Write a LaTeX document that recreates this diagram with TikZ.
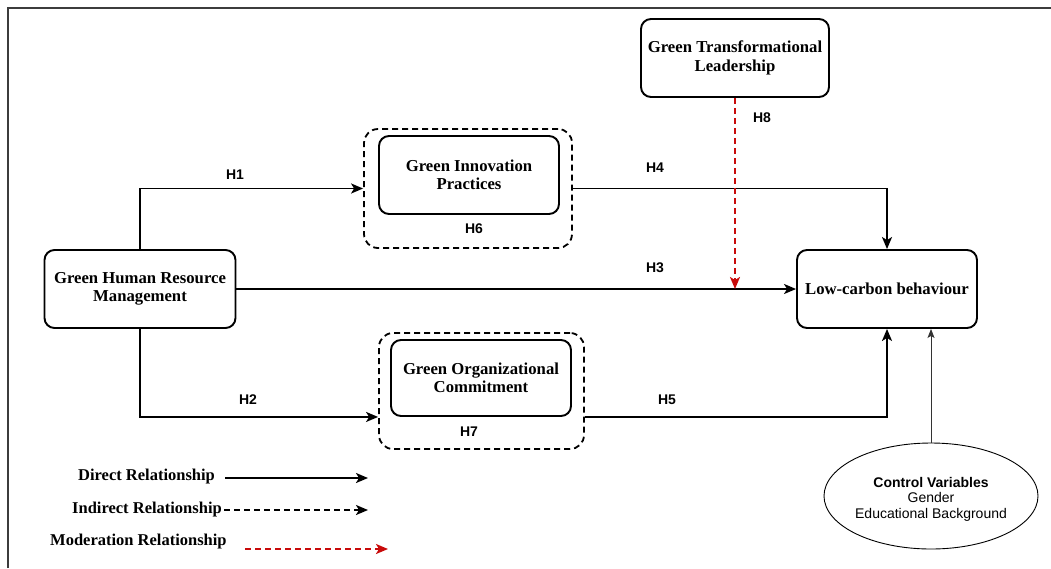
\documentclass[tikz,border=0pt]{standalone}
\usepackage{fontspec}
\setmainfont{Liberation Serif}
\newfontfamily\arialf{Liberation Sans}
\usetikzlibrary{arrows.meta,shapes.geometric,calc}
\definecolor{modred}{RGB}{200,10,10}
\definecolor{framegray}{RGB}{60,60,60}
\begin{document}
\begin{tikzpicture}[x=1pt,y=-1pt,
  box/.style={draw, line width=1.9pt, rounded corners=10pt, align=center, inner sep=0pt,
    font=\bfseries\fontsize{16.7}{18.5}\selectfont},
  grp/.style={draw, line width=1.8pt, dash pattern=on 6pt off 4pt, rounded corners=14pt, inner sep=0pt},
  conn/.style={line width=1.9pt, -{Stealth[length=12pt,width=10pt,inset=3pt]}},
  modconn/.style={conn, modred, dash pattern=on 6pt off 4pt},
  hlab/.style={font=\arialf\bfseries\fontsize{14}{16}\selectfont},
  legtxt/.style={font=\bfseries\fontsize{16.5}{18}\selectfont, inner sep=0pt}
]
\useasboundingbox (0,0) rectangle (1051,568);
% frame
\draw[framegray, line width=1.6pt] (8,568) -- (8,8) -- (1051,8);

% nodes
\node[box, minimum width=191pt, minimum height=78pt] (ghrm) at (140,289) {Green Human Resource\\Management};
\node[box, minimum width=188pt, minimum height=78pt] (gtl) at (735,58) {Green Transformational\\Leadership};
\node[box, minimum width=180pt, minimum height=78pt] (lcb) at (887,289) {Low-carbon behaviour};

\node[box, minimum width=180pt, minimum height=78pt] (gip) at (469,175) {Green Innovation\\Practices};
\node[grp, minimum width=208pt, minimum height=119pt] (gipo) at (468,188.5) {};
\node[box, minimum width=180pt, minimum height=76pt] (goc) at (481,378) {Green Organizational\\Commitment};
\node[grp, minimum width=205pt, minimum height=116pt] (goco) at (481.5,391) {};

\node[draw, line width=0.9pt, ellipse, minimum width=214pt, minimum height=106pt, inner sep=0pt] (cv) at (931,496) {};
\node[align=center, inner sep=0pt, font=\arialf\fontsize{14}{15.5}\selectfont] (cvtext) at (931,499)
  {\textbf{Control Variables}\\Gender\\Educational Background};

% connectors
\draw[conn] (ghrm.north) |- (gipo.west);
\draw[conn] (gipo.east) -| (lcb.north);
\draw[conn] (ghrm.east) -- (lcb.west);
\draw[conn] (ghrm.south) |- (goco.west |- goc.south);
\draw[conn] (goco.east |- goc.south) -| (lcb.south);
\draw[modconn] (gtl.south) -- (gtl.south |- lcb.west);
\draw[line width=0.9pt, black!80, -{Stealth[length=9pt,width=7pt,inset=2pt]}] (cv.north) -- (cv.north |- lcb.south);

% hypothesis labels
\node[hlab] (h1) at (235,175) {H1};
\node[hlab] (h2) at (248,400) {H2};
\node[hlab] (h3) at (655,268) {H3};
\node[hlab] (h4) at (655,168) {H4};
\node[hlab] (h5) at (667,400) {H5};
\node[hlab] (h6) at (474,229) {H6};
\node[hlab] (h7) at (469,432) {H7};
\node[hlab] (h8) at (762,118) {H8};

% legend
\node[legtxt, anchor=west] (ld) at (78,477) {Direct Relationship};
\node[legtxt, anchor=west] (li) at (72,510) {Indirect Relationship};
\node[legtxt, anchor=west] (lm) at (50,542) {Moderation Relationship};
\coordinate (lds) at (225,478); \coordinate (lde) at (368,478);
\coordinate (lis) at (224,510); \coordinate (lie) at (368,510);
\coordinate (lms) at (245,549); \coordinate (lme) at (388,549);
\draw[conn] (lds) -- (lde);
\draw[conn, dash pattern=on 6pt off 4pt] (lis) -- (lie);
\draw[modconn] (lms) -- (lme);
\end{tikzpicture}
\end{document}
